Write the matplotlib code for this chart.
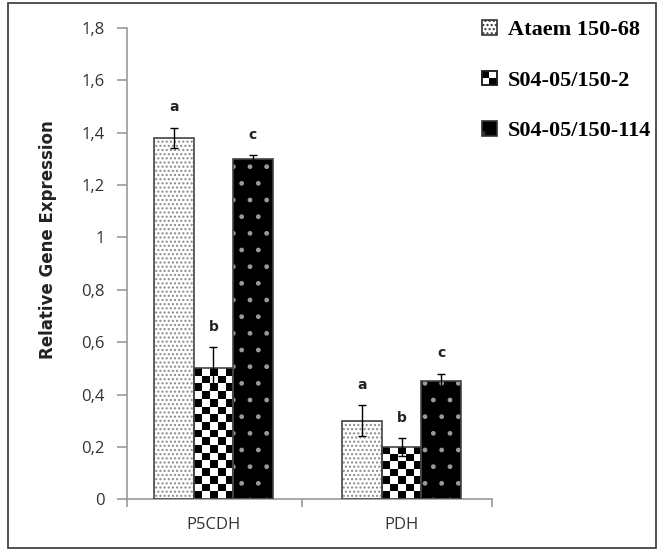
import numpy as np
import matplotlib
matplotlib.use("Agg")
import matplotlib.pyplot as plt
from matplotlib.patches import Rectangle
from matplotlib.legend_handler import HandlerBase

# data
genes = ["P5CDH", "PDH"]
lines = ["Ataem 150-68", "S04-05/150-2", "S04-05/150-114"]
means = {
    "Ataem 150-68":   [1.38, 0.30],
    "S04-05/150-2":   [0.50, 0.20],
    "S04-05/150-114": [1.30, 0.45],
}
errs = {
    "Ataem 150-68":   [0.04, 0.06],
    "S04-05/150-2":   [0.08, 0.035],
    "S04-05/150-114": [0.015, 0.03],
}
letters = {
    "Ataem 150-68":   ["a", "a"],
    "S04-05/150-2":   ["b", "b"],
    "S04-05/150-114": ["c", "c"],
}
yticks = [0, 0.2, 0.4, 0.6, 0.8, 1.0, 1.2, 1.4, 1.6, 1.8]
ytick_labels = ["0", "0,2", "0,4", "0,6", "0,8", "1", "1,2", "1,4", "1,6", "1,8"]

fig = plt.figure(figsize=(6.64, 5.51), dpi=100)
ax = fig.add_axes([0.191, 0.094, 0.55, 0.855])

# outer frame of the figure
fig.patches.append(Rectangle((8/664, 3/551), 648/664, 545/551, transform=fig.transFigure,
                             fill=False, edgecolor="#444444", linewidth=1.3))

x = np.arange(len(genes))
w = 0.21
offsets = [-w, 0, w]
edge = "#444444"

def checker(ax, bar, cell=7.5):
    # paint a checkerboard texture clipped to the bar
    x0, y0 = bar.get_x(), bar.get_y()
    bw, bh = bar.get_width(), bar.get_height()
    p0 = ax.transData.transform((x0, y0))
    p1 = ax.transData.transform((x0 + bw, y0 + bh))
    nx = max(1, int(round((p1[0] - p0[0]) / cell)))
    ny = max(1, int(round((p1[1] - p0[1]) / cell)))
    img = (np.add.outer(np.arange(ny), np.arange(nx)) % 2).astype(float)
    im = ax.imshow(img, cmap="gray", extent=(x0, x0 + bw, y0, y0 + bh),
                   origin="lower", interpolation="nearest", aspect="auto", zorder=2)
    im.set_clip_path(bar)

class CheckerHandler(HandlerBase):
    # 2x2 checker square for the legend
    def create_artists(self, legend, orig, xd, yd, width, height, fontsize, trans):
        s = min(width, height)
        x0, y0 = xd * -1 + (width - s) / 2, yd * -1 + (height - s) / 2
        h = s / 2
        out = [Rectangle((x0, y0), s, s, facecolor="white", lw=0, transform=trans),
               Rectangle((x0, y0 + h), h, h, facecolor="black", lw=0, transform=trans),
               Rectangle((x0 + h, y0), h, h, facecolor="black", lw=0, transform=trans),
               Rectangle((x0, y0), s, s, fill=False, edgecolor="#222222", lw=1.2, transform=trans)]
        return out

ax.set_xlim(-0.46, 1.48)
ax.set_ylim(0, 1.8)

handles = []
for name, off in zip(lines, offsets):
    xs = x + off
    if name == "Ataem 150-68":
        b = ax.bar(xs, means[name], w, color="white", edgecolor="#8a8a8a", hatch="....",
                   linewidth=0, zorder=2)
    elif name == "S04-05/150-2":
        b = ax.bar(xs, means[name], w, color="white", edgecolor="black", linewidth=0, zorder=2)
        for bar in b:
            checker(ax, bar)
    else:
        b = ax.bar(xs, means[name], w, color="black", edgecolor="#9a9a9a", hatch=".",
                   linewidth=0, zorder=2)
    ax.bar(xs, means[name], w, fill=False, edgecolor=edge, linewidth=1.2, zorder=3)
    ax.errorbar(xs, means[name], yerr=errs[name], fmt="none", ecolor="black",
                elinewidth=1, capsize=3, capthick=1, zorder=4)
    for xi, m, e, t in zip(xs, means[name], errs[name], letters[name]):
        ax.text(xi, m + e + 0.05, t, ha="center", va="bottom", fontsize=10,
                fontweight="bold", color="#222222")
    handles.append(b)

# axes styling
for s in ["top", "right"]:
    ax.spines[s].set_visible(False)
for s in ["left", "bottom"]:
    ax.spines[s].set_color("#9a9a9a")
    ax.spines[s].set_linewidth(1.2)

ax.set_yticks(yticks)
ax.set_yticklabels(ytick_labels, fontsize=12, color="#333333", family="Open Sans")
ax.tick_params(axis="y", length=7, color="#9a9a9a", width=1.2, pad=9)
ax.set_xticks(x)
ax.set_xticklabels(genes, fontsize=12, color="#333333", family="Open Sans")
ax.tick_params(axis="x", which="major", length=0, pad=13)
ax.set_xticks([-0.46, 0.47, 1.48], minor=True)
ax.tick_params(axis="x", which="minor", length=6, color="#9a9a9a", width=1.2)

ax.set_ylabel("Relative Gene Expression", fontsize=12, fontweight="bold", color="#222222")
ax.yaxis.set_label_coords(-0.19, 0.55)

leg = fig.legend(handles, lines, loc="upper left", bbox_to_anchor=(0.696, 1.0),
                 frameon=False, handlelength=0.65, handleheight=0.65, handletextpad=0.5,
                 labelspacing=1.36, handler_map={handles[1]: CheckerHandler()},
                 prop={"family": "Liberation Serif", "weight": "bold", "size": 16})
for p in leg.get_patches():
    p.set_edgecolor("#333333")
    p.set_linewidth(1.2)

fig.savefig("out.png", dpi=100)
